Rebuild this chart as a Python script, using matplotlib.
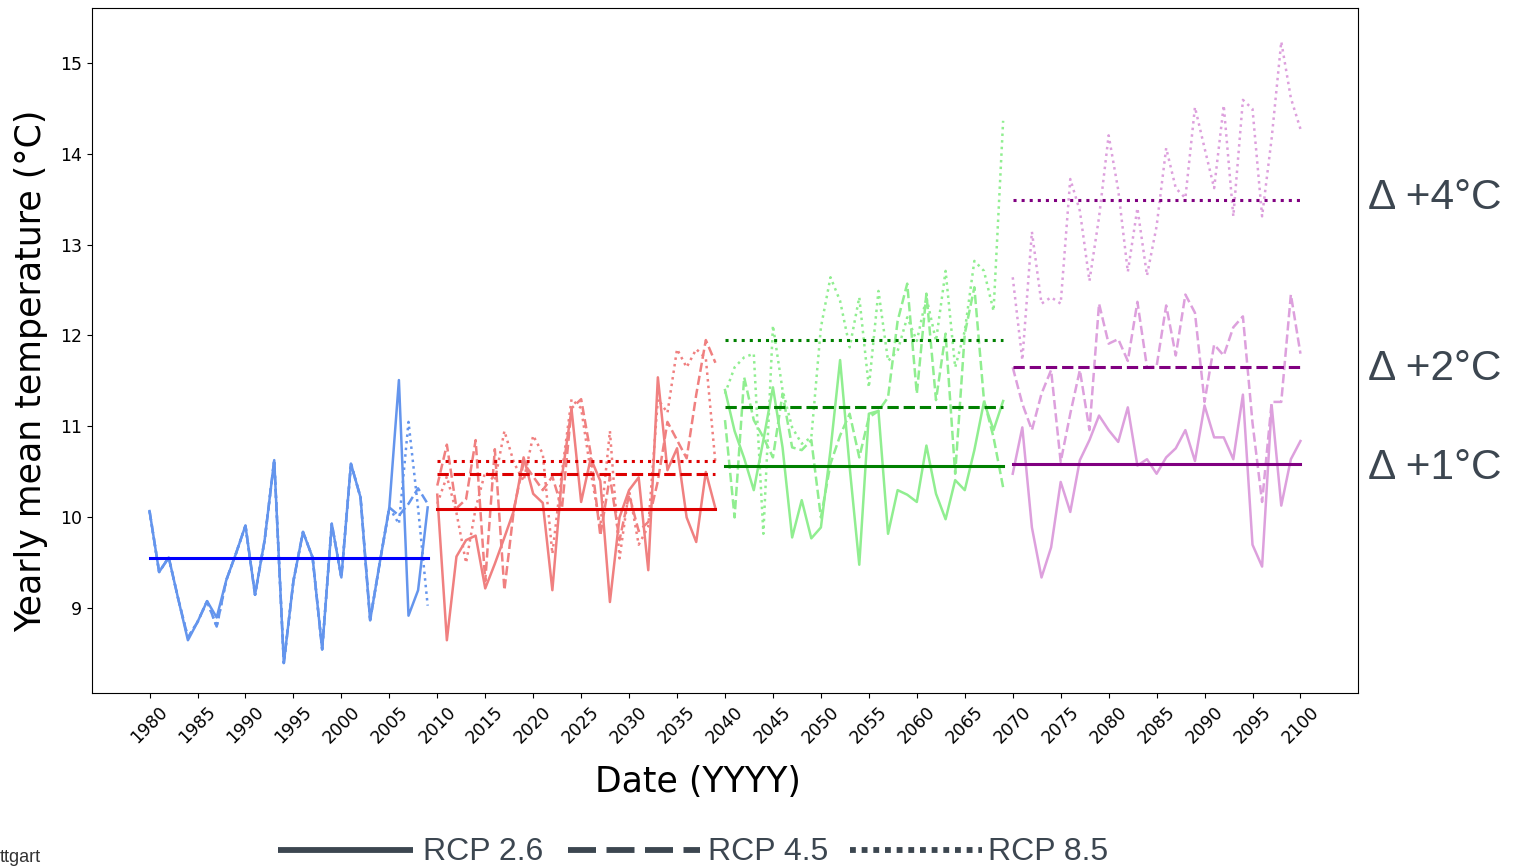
import numpy as np
import matplotlib
matplotlib.use('Agg')
import matplotlib.pyplot as plt
from matplotlib.lines import Line2D

# ---- data (yearly mean temperature, degC) ----
years_1 = np.arange(1980, 2010)
years_2 = np.arange(2010, 2040)
years_3 = np.arange(2040, 2070)
years_4 = np.arange(2070, 2101)

# 1980-2009 (historical, scenarios only split at the end)
p1_rcp26 = [10.07, 9.40, 9.56, 9.10, 8.65, 8.85, 9.08, 8.90, 9.31, 9.60,
            9.91, 9.15, 9.75, 10.63, 8.40, 9.30, 9.84, 9.56, 8.55, 9.93,
            9.34, 10.59, 10.22, 8.87, 9.50, 10.11, 11.51, 8.92, 9.20, 10.11]
p1_rcp45 = [10.07, 9.40, 9.56, 9.10, 8.68, 8.85, 9.08, 8.80, 9.31, 9.60,
            9.91, 9.15, 9.75, 10.63, 8.40, 9.30, 9.84, 9.56, 8.55, 9.93,
            9.34, 10.59, 10.22, 8.87, 9.50, 10.11, 10.02, 10.15, 10.32, 10.15]
p1_rcp85 = [10.07, 9.40, 9.56, 9.10, 8.68, 8.85, 9.08, 8.80, 9.31, 9.60,
            9.91, 9.15, 9.75, 10.63, 8.40, 9.30, 9.84, 9.56, 8.55, 9.93,
            9.34, 10.59, 10.22, 8.87, 9.50, 10.11, 9.93, 11.05, 10.10, 9.03]

# 2010-2039
p2_rcp26 = [10.25, 8.65, 9.57, 9.75, 9.80, 9.22, 9.49, 9.78, 10.08, 10.66,
            10.26, 10.16, 9.20, 10.45, 11.19, 10.17, 10.65, 10.40, 9.07, 10.00,
            10.30, 10.44, 9.42, 11.54, 10.52, 10.76, 10.00, 9.73, 10.50, 10.10]
p2_rcp45 = [10.35, 10.80, 10.10, 10.20, 10.85, 9.30, 10.75, 9.20, 10.10, 10.60,
            10.45, 10.30, 10.45, 10.10, 11.20, 11.30, 10.70, 9.80, 10.45, 9.75,
            10.25, 9.85, 9.95, 10.40, 11.05, 10.85, 10.65, 11.35, 11.95, 11.70]
p2_rcp85 = [10.15, 10.45, 10.05, 9.50, 10.10, 10.50, 10.40, 10.95, 10.60, 10.40,
            10.90, 10.70, 9.60, 10.50, 11.30, 11.20, 10.50, 9.90, 10.95, 9.55,
            10.30, 9.70, 9.90, 11.30, 11.15, 11.85, 11.65, 11.85, 11.75, 10.60]

# 2040-2069
p3_rcp26 = [11.40, 10.95, 10.65, 10.30, 10.85, 11.43, 10.77, 9.78, 10.19, 9.77,
            9.89, 10.74, 11.73, 10.55, 9.48, 11.14, 11.17, 9.82, 10.30, 10.25,
            10.17, 10.79, 10.26, 9.98, 10.41, 10.30, 10.74, 11.27, 10.96, 11.28]
p3_rcp45 = [11.07, 10.00, 11.54, 11.07, 10.88, 10.66, 11.36, 10.77, 10.74, 10.85,
            10.00, 10.59, 10.90, 11.14, 10.66, 11.10, 11.17, 11.32, 12.16, 12.57,
            11.36, 12.46, 11.29, 12.02, 10.48, 12.02, 12.53, 11.29, 10.88, 10.33]
p3_rcp85 = [11.36, 11.65, 11.76, 11.80, 9.82, 12.11, 11.40, 10.99, 10.81, 10.88,
            12.09, 12.64, 12.38, 11.87, 12.42, 11.43, 12.49, 11.72, 11.83, 12.20,
            11.94, 12.42, 11.94, 12.71, 11.65, 12.05, 12.82, 12.71, 12.27, 14.36]

# 2070-2100
p4_rcp26 = [10.48, 10.99, 9.89, 9.34, 9.67, 10.39, 10.06, 10.63, 10.85, 11.12,
            10.96, 10.83, 11.21, 10.57, 10.64, 10.48, 10.66, 10.76, 10.96, 10.62,
            11.23, 10.88, 10.88, 10.64, 11.35, 9.70, 9.46, 11.23, 10.13, 10.64, 10.84]
p4_rcp45 = [11.65, 11.25, 10.96, 11.36, 11.62, 10.61, 11.14, 11.62, 10.96, 12.35,
            11.91, 11.96, 11.72, 12.37, 11.65, 11.66, 12.33, 11.78, 12.45, 12.25,
            11.27, 11.90, 11.78, 12.09, 12.21, 11.04, 10.17, 11.27, 11.27, 12.45, 11.80]
p4_rcp85 = [12.64, 11.73, 13.14, 12.35, 12.42, 12.35, 13.72, 13.37, 12.60, 13.30,
            14.20, 13.60, 12.70, 13.40, 12.66, 13.20, 14.06, 13.62, 13.51, 14.51,
            14.06, 13.62, 14.53, 13.31, 14.59, 14.49, 13.31, 14.17, 15.23, 14.61, 14.27]

# period means (horizontal lines)
mean_1 = [9.55]
mean_2 = [10.09, 10.48, 10.62]
mean_3 = [10.56, 11.21, 11.95]
mean_4 = [10.59, 11.65, 13.49]

delta_labels = ['Δ +4°C', 'Δ +2°C', 'Δ +1°C']
legend_labels = ['RCP 2.6', 'RCP 4.5', 'RCP 8.5']

# ---- figure ----
W, H = 1513, 868
fig = plt.figure(figsize=(W / 100, H / 100), dpi=100)
ax = fig.add_axes([92 / W, 1 - 693 / H, (1358 - 92) / W, (693 - 8) / H])

styles = ['-', '--', ':']
periods = [
    (years_1, [p1_rcp26, p1_rcp45, p1_rcp85], 'cornflowerblue', 'blue', mean_1),
    (years_2, [p2_rcp26, p2_rcp45, p2_rcp85], 'lightcoral', '#dd0000', mean_2),
    (years_3, [p3_rcp26, p3_rcp45, p3_rcp85], 'lightgreen', 'green', mean_3),
    (years_4, [p4_rcp26, p4_rcp45, p4_rcp85], 'plum', 'purple', mean_4),
]

for yrs, series, light, dark, means in periods:
    for vals, ls in zip(series, styles):
        ax.plot(yrs, vals, color=light, ls=ls, lw=1.8)
    for m, ls in zip(means, styles):
        ax.plot([yrs[0], yrs[-1]], [m, m], color=dark, ls=ls, lw=2.2)

ax.set_xlim(1974, 2106)
ax.set_ylim(8.07, 15.6)
ax.set_xticks(np.arange(1980, 2101, 5))
ax.tick_params(axis='x', labelrotation=45, labelsize=12.5)
ax.tick_params(axis='y', labelsize=12.5)
ax.set_xlabel('Date (YYYY)', fontsize=25)
ax.set_ylabel('Yearly mean temperature (°C)', fontsize=25)
ax.xaxis.set_label_coords(0.479, -0.105)
ax.yaxis.set_label_coords(-0.035, 0.47)

# delta annotations on the right
grey = '#3c4650'
for txt, ypix in zip(delta_labels, [198, 369, 468]):
    fig.text(1368 / W, 1 - ypix / H, txt, fontsize=30.5, color=grey,
             family='Liberation Sans', va='center', ha='left')

# hand made legend along the bottom
ly = 1 - 850 / H
legend_x = [(278, 413, 423), (568, 700, 708), (850, 982, 988)]
dash_sets = [None, (4.8, 1.8), (1, 1)]
for (x0, x1, xt), lab, ls, d in zip(legend_x, legend_labels, styles, dash_sets):
    ln = Line2D([x0 / W, x1 / W], [ly, ly], transform=fig.transFigure,
                color=grey, lw=4.2, solid_capstyle='butt', dash_capstyle='butt')
    if d is not None:
        ln.set_dashes(d)
    fig.add_artist(ln)
    fig.text(xt / W, 1 - 852 / H, lab, fontsize=23, color=grey,
             family='Liberation Sans', va='center', ha='left')

# place name, cut at the left edge of the slide
fig.text(0, 1 - 858 / H, 'ttgart', fontsize=13, color='#333333',
         family='Liberation Sans', ha='left', va='center')

fig.savefig('out.png', dpi=100)
